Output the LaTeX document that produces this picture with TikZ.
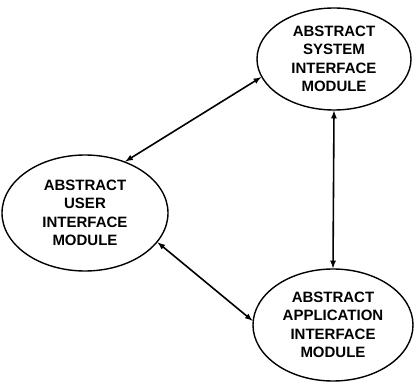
\documentclass[tikz,border=0pt]{standalone}
\usepackage{fontspec}
\setmainfont{Liberation Sans}
\usetikzlibrary{arrows,shapes.geometric}

\begin{document}
\begin{tikzpicture}[x=1pt,y=1pt,
    module/.style={draw,ellipse,line width=1.4pt,inner sep=0pt,align=center,
      font=\fontsize{15}{18.5}\selectfont\bfseries},
    link/.style={latex-latex,line width=1.6pt}]
  \useasboundingbox (0,0) rectangle (418,381);
  % the three modules
  \node[module,minimum width=154,minimum height=102] (sys) at (334,322)
    {ABSTRACT\\SYSTEM\\INTERFACE\\MODULE};
  \node[module,minimum width=166,minimum height=116] (usr) at (85,168)
    {ABSTRACT\\USER\\INTERFACE\\MODULE};
  \node[module,minimum width=160,minimum height=112] (app) at (333,56)
    {ABSTRACT\\APPLICATION\\INTERFACE\\MODULE};
  % links between them
  \draw[link] (usr.52) -- (sys.194);
  \draw[link] (usr.-22) -- (app.177);
  \draw[link] (sys.south) -- (app.north);
\end{tikzpicture}
\end{document}
